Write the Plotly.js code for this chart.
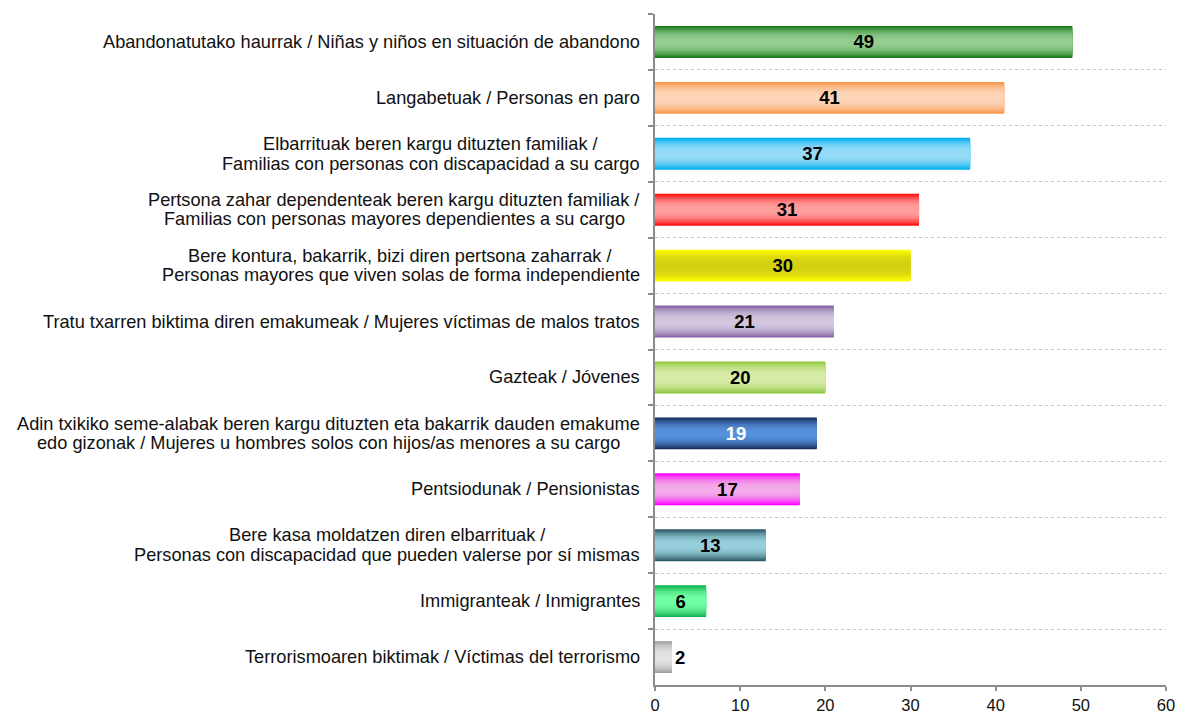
<!DOCTYPE html>
<html>
<head>
<meta charset="utf-8">
<script src="https://cdn.plot.ly/plotly-3.0.1.min.js"></script>
<style>html,body{margin:0;padding:0;background:#fff;}#chart{width:1178px;height:714px;}</style>
</head>
<body>
<div id="chart"></div>
<script>
const categories = [
  "Abandonatutako haurrak / Niñas y niños en situación de abandono",
  "Langabetuak / Personas en paro",
  "Elbarrituak beren kargu dituzten familiak /<br>Familias con personas con discapacidad a su cargo",
  "Pertsona zahar dependenteak beren kargu dituzten familiak /<br>Familias con personas mayores dependientes a su cargo",
  "Bere kontura, bakarrik, bizi diren pertsona zaharrak /<br>Personas mayores que viven solas de forma independiente",
  "Tratu txarren biktima diren emakumeak / Mujeres víctimas de malos tratos",
  "Gazteak / Jóvenes",
  "Adin txikiko seme-alabak beren kargu dituzten eta bakarrik dauden emakume<br>edo gizonak / Mujeres u hombres solos con hijos/as menores a su cargo",
  "Pentsiodunak / Pensionistas",
  "Bere kasa moldatzen diren elbarrituak /<br>Personas con discapacidad que pueden valerse por sí mismas",
  "Immigranteak / Inmigrantes",
  "Terrorismoaren biktimak / Víctimas del terrorismo"
];
const values = [49, 41, 37, 31, 30, 21, 20, 19, 17, 13, 6, 2];
const valueLabels = ["49","41","37","31","30","21","20","19","17","13","6","2"];
const xTicks = [0, 10, 20, 30, 40, 50, 60];

const edgeColors = ["#1c7a1c","#f7964a","#00aeef","#ff1010","#ffff00","#8465a4","#92c840","#15305e","#ff00ff","#2c5a66","#12b050","#a3a3a3"];
const centerColors = ["#94cd90","#fcd5b8","#96dbf7","#ff9e9e","#d4d012","#d2c6de","#d8eca8","#5590da","#f3ace8","#96cedb","#70ffa2","#e2e2e2"];
const textColors = ["#000","#000","#000","#000","#000","#000","#000","#fff","#000","#000","#000","#000"];

function hexToRgb(h){h=h.replace('#','');return [parseInt(h.substr(0,2),16),parseInt(h.substr(2,2),16),parseInt(h.substr(4,2),16)];}
function mix(a,b,t){const A=hexToRgb(a),B=hexToRgb(b);return 'rgb('+A.map((v,i)=>Math.round(v+(B[i]-v)*t)).join(',')+')';}

const FONT = 'Liberation Sans, Arial, sans-serif';
const LABEL_SIZE = 18.2;
const LINE_GAP = 19.5;
const BAR_W = 0.57;
const N = 12;
const traces = [];
for (let k = 0; k < N; k++) {
  const frac = k / N;
  const t = 1 - Math.pow(1 - k/(N-1), 2.2);
  traces.push({
    type: 'bar', orientation: 'h',
    x: values, y: categories,
    width: BAR_W * (1 - frac),
    marker: {color: edgeColors.map((c,i)=>mix(c, centerColors[i], t)), line: {width: 0}},
    hoverinfo: 'skip', showlegend: false
  });
}
traces.push({
  type: 'bar', orientation: 'h',
  x: values, y: categories, width: BAR_W,
  marker: {color: 'rgba(0,0,0,0)', line: {width: 0}},
  text: valueLabels,
  textposition: values.map(v => v < 4 ? 'outside' : 'inside'),
  insidetextanchor: 'middle',
  constraintext: 'none',
  textangle: 0,
  textfont: {family: FONT, size: 18.5, color: textColors, weight: 'bold'},
  cliponaxis: false,
  hoverinfo: 'skip', showlegend: false
});

// category labels: centred lines, block right-aligned to the axis
const ctx = document.createElement('canvas').getContext('2d');
ctx.font = LABEL_SIZE + "px 'Liberation Sans'";
const annotations = [];
categories.forEach(c => {
  const lines = c.split('<br>');
  const w = Math.max(...lines.map(l => ctx.measureText(l).width));
  const n = lines.length;
  lines.forEach((l, j) => {
    annotations.push({
      xref: 'paper', yref: 'y', x: 0, y: c,
      xanchor: 'center', yanchor: 'middle', align: 'center',
      xshift: -(15 + w / 2),
      yshift: ((n - 1) / 2 - j) * LINE_GAP,
      text: l, showarrow: false,
      font: {family: FONT, size: LABEL_SIZE, color: '#111'}
    });
  });
});

const layout = {
  width: 1178, height: 714,
  margin: {l: 655, r: 12, t: 14, b: 29},
  paper_bgcolor: '#fff', plot_bgcolor: '#fff',
  barmode: 'overlay',
  font: {family: FONT, size: 16, color: '#111'},
  xaxis: {
    range: [0, 60], tickvals: xTicks, ticktext: xTicks.map(String),
    showgrid: false, zeroline: false,
    showline: true, linecolor: '#8c8c8c', linewidth: 2,
    ticks: 'outside', ticklen: 4, tickwidth: 2, tickcolor: '#8c8c8c',
    tickfont: {size: 16.5, color: '#111'}, fixedrange: true
  },
  yaxis: {
    type: 'category', categoryorder: 'array', categoryarray: categories,
    autorange: 'reversed',
    showticklabels: false,
    tickson: 'boundaries', ticks: 'outside', ticklen: 5, tickwidth: 2, tickcolor: '#8c8c8c',
    showline: true, linecolor: '#8c8c8c', linewidth: 2,
    showgrid: true, gridcolor: '#c4c4c4', gridwidth: 1, griddash: '3px,3px',
    zeroline: false, fixedrange: true
  },
  annotations: annotations,
  shapes: [{type: 'line', xref: 'paper', yref: 'paper', x0: 0.004, x1: 1.01, y0: 1, y1: 1, line: {color: '#fff', width: 3}, layer: 'above'}]
};

Plotly.newPlot('chart', traces, layout, {displayModeBar: false, staticPlot: true});
</script>
</body>
</html>
